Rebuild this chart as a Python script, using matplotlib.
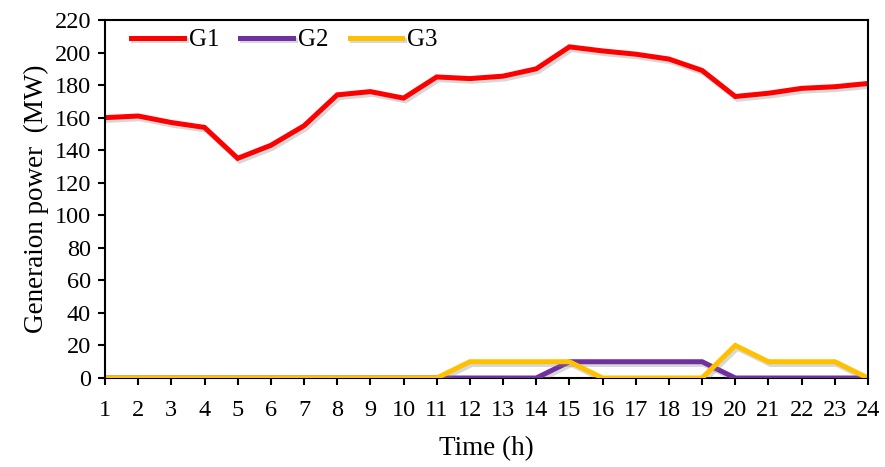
import numpy as np
import matplotlib.pyplot as plt
import matplotlib.patheffects as pe

# -------------------------------------------
# Data
# -------------------------------------------
hours = list(range(1, 25))
g1 = [160, 161, 157, 154, 135, 143, 155, 174, 176, 172, 185, 184,
      185.5, 190, 203.5, 201, 199, 196, 189, 173, 175, 178, 179, 181]
g2 = [0, 0, 0, 0, 0, 0, 0, 0, 0, 0, 0, 0,
      0, 0, 10, 10, 10, 10, 10, 0, 0, 0, 0, 0]
g3 = [0, 0, 0, 0, 0, 0, 0, 0, 0, 0, 0, 10,
      10, 10, 10, 0, 0, 0, 0, 20, 10, 10, 10, 0]

plt.rcParams['font.family'] = ['Liberation Serif', 'DejaVu Serif']
tick_fs = 17.5
label_fs = 19.5

fig = plt.figure(figsize=(8.85, 4.67), dpi=100)
ax = fig.add_axes([105 / 885, 1 - 378 / 467, 763 / 885, 358 / 467])

shadow = [pe.SimpleLineShadow(offset=(1.5, -2), alpha=0.3, shadow_color='gray'), pe.Normal()]
ax.plot(hours, g1, color='#ff0000', lw=3.6, label='G1', path_effects=shadow, solid_joinstyle='miter')
ax.plot(hours, g2, color='#7030a0', lw=3.6, label='G2', path_effects=shadow, solid_joinstyle='miter')
ax.plot(hours, g3, color='#ffc000', lw=3.6, label='G3', path_effects=shadow, solid_joinstyle='miter')

ax.set_xlim(1, 24)
ax.set_ylim(0, 220)
ax.set_xticks(hours)
ax.set_yticks(np.arange(0, 221, 20))
ax.tick_params(axis='both', direction='out', length=5, width=1.5, labelsize=tick_fs, colors='black')
ax.tick_params(axis='x', pad=11)
ax.tick_params(axis='y', pad=5)
for s in ax.spines.values():
    s.set_linewidth(1.5)
    s.set_color('black')
ax.spines['bottom'].set_zorder(0)

ax.set_xlabel('Time (h)', fontsize=label_fs, labelpad=11)
ax.set_ylabel('Generaion power  (MW)', fontsize=label_fs, labelpad=4)

leg = ax.legend(loc='center left', ncol=3, frameon=False, fontsize=18,
                handlelength=2.1, columnspacing=0.85, handletextpad=0.2,
                bbox_to_anchor=(26 / 763, 1 - 20 / 358), borderaxespad=0, borderpad=0)

fig.savefig('out.png', dpi=100)
